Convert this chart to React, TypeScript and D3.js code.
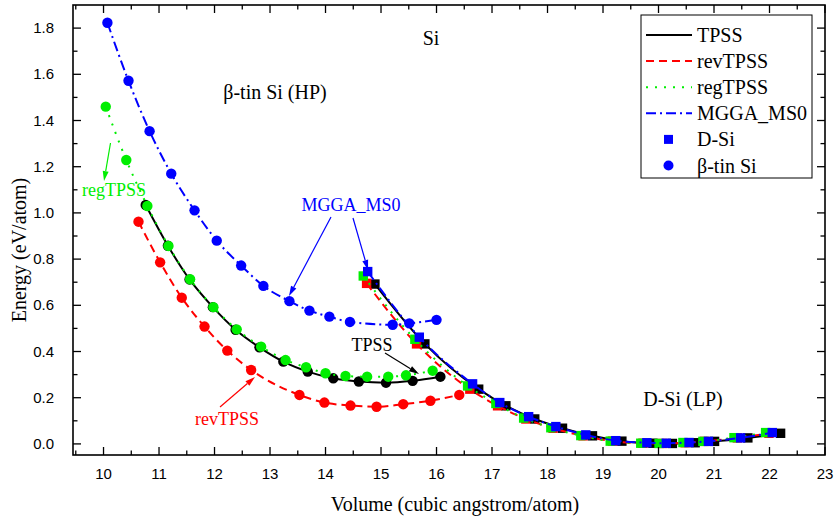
import React from "react";
import * as d3 from "d3";

// Energy–volume curves for silicon, [volume (Å^3/atom), energy (eV/atom)]
// β-tin (high-pressure) phase
const tpssBeta: [number, number][] = [
  [10.76, 1.034], [11.16, 0.858], [11.55, 0.712], [11.97, 0.592], [12.38, 0.494],
  [12.81, 0.418], [13.24, 0.356], [13.68, 0.313], [14.14, 0.284], [14.6, 0.27],
  [15.09, 0.265], [15.57, 0.273], [16.07, 0.291],
];
const revBeta: [number, number][] = [
  [10.63, 0.962], [11.02, 0.786], [11.41, 0.633], [11.82, 0.508], [12.23, 0.404],
  [12.66, 0.32], [13.53, 0.212], [13.98, 0.179], [14.45, 0.166], [14.92, 0.161],
  [15.4, 0.172], [15.89, 0.187], [16.41, 0.212],
];
const regBeta: [number, number][] = [
  [10.04, 1.46], [10.41, 1.229], [10.79, 1.03], [11.17, 0.857], [11.56, 0.713],
  [11.98, 0.592], [12.4, 0.496], [12.84, 0.421], [13.28, 0.363], [13.65, 0.332],
  [14.0, 0.306], [14.36, 0.294], [14.75, 0.291], [15.13, 0.291], [15.45, 0.297],
  [15.93, 0.317],
];
const ms0Beta: [number, number][] = [
  [10.07, 1.823], [10.45, 1.572], [10.83, 1.354], [11.22, 1.17], [11.64, 1.011],
  [12.04, 0.88], [12.48, 0.772], [12.88, 0.684], [13.35, 0.618], [13.71, 0.577],
  [14.07, 0.551], [14.44, 0.528], [15.21, 0.516], [15.51, 0.522], [16.0, 0.537],
];
// diamond (low-pressure) phase
const tpssD: [number, number][] = [
  [14.89, 0.692], [15.79, 0.433], [16.76, 0.237], [17.25, 0.165], [17.77, 0.108],
  [18.27, 0.068], [18.81, 0.035], [19.34, 0.012], [19.9, 0.003], [20.25, 0.002],
  [20.66, 0.005], [21.01, 0.011], [21.61, 0.026], [22.2, 0.046],
];
const revD: [number, number][] = [
  [14.74, 0.695], [15.64, 0.433], [16.6, 0.237], [17.1, 0.165], [17.61, 0.108],
  [18.1, 0.068], [18.64, 0.035], [19.17, 0.012], [19.72, 0.003], [20.07, 0.002],
  [20.48, 0.005], [20.83, 0.011], [21.42, 0.026], [21.99, 0.046],
];
const regD: [number, number][] = [
  [14.68, 0.727], [15.61, 0.453], [16.56, 0.251], [17.07, 0.175], [17.57, 0.112],
  [18.06, 0.07], [18.6, 0.036], [19.13, 0.012], [19.68, 0.003], [20.01, 0.002],
  [20.44, 0.006], [20.8, 0.011], [21.36, 0.027], [21.93, 0.049],
];
const ms0D: [number, number][] = [
  [14.76, 0.746], [15.69, 0.462], [16.65, 0.26], [17.14, 0.179], [17.66, 0.118],
  [18.15, 0.075], [18.69, 0.039], [19.23, 0.014], [19.79, 0.005], [20.14, 0.003],
  [20.55, 0.006], [20.9, 0.011], [21.48, 0.026], [22.05, 0.049],
];

const xTicks = d3.range(10, 23.01, 1);
const xMinor = d3.range(9.5, 23, 1);
const yTicks = d3.range(0, 1.81, 0.2);
const yMinor = d3.range(0.1, 1.85, 0.2);

const series = [
  { name: "TPSS", color: "#000000", dash: "none", beta: tpssBeta, dsi: tpssD },
  { name: "revTPSS", color: "#ff0000", dash: "8,5", beta: revBeta, dsi: revD },
  { name: "regTPSS", color: "#00ee00", dash: "2,7", beta: regBeta, dsi: regD },
  { name: "MGGA_MS0", color: "#0000ff", dash: "10,4,2,4", beta: ms0Beta, dsi: ms0D },
];

const W = 838;
const H = 521;
const left = 73, right = 825, top = 5, bottom = 455;

const x = d3.scaleLinear().domain([9.45, 23]).range([left, right]);
const y = d3.scaleLinear().domain([-0.048, 1.9]).range([bottom, top]);

const line = d3
  .line<[number, number]>()
  .x((d) => x(d[0]))
  .y((d) => y(d[1]))
  .curve(d3.curveMonotoneX);

const serif = "'Liberation Serif', 'Times New Roman', serif";
const sans = "'Liberation Sans', Arial, sans-serif";

function Arrow({ x1, y1, x2, y2, color }: { x1: number; y1: number; x2: number; y2: number; color: string }) {
  const a = Math.atan2(y2 - y1, x2 - x1);
  const len = 10, half = 3;
  const bx = x2 - len * Math.cos(a), by = y2 - len * Math.sin(a);
  const px = -Math.sin(a) * half, py = Math.cos(a) * half;
  return (
    <g>
      <line x1={x1} y1={y1} x2={bx} y2={by} stroke={color} strokeWidth={1.2} />
      <polygon points={`${x2},${y2} ${bx + px},${by + py} ${bx - px},${by - py}`} fill={color} />
    </g>
  );
}

export default function App() {
  const legendRows = [
    ...series.map((s) => ({ kind: "line", ...s })),
    { kind: "square", name: "D-Si", color: "#0000ff", dash: "none" },
    { kind: "circle", name: "β-tin Si", color: "#0000ff", dash: "none" },
  ];
  return (
    <svg width={W} height={H} style={{ display: "block", position: "absolute", left: 0, top: 0, background: "#fff" }}>
      <rect width={W} height={H} fill="#fff" />
      {/* series */}
      {series.map((s) => (
        <g key={s.name}>
          <path d={line(s.beta) || ""} fill="none" stroke={s.color} strokeWidth={2} strokeDasharray={s.dash} />
          <path d={line(s.dsi) || ""} fill="none" stroke={s.color} strokeWidth={2} strokeDasharray={s.dash} />
          {s.beta.map((d, i) => (
            <circle key={"b" + i} cx={x(d[0])} cy={y(d[1])} r={5.2} fill={s.color} />
          ))}
          {s.dsi.map((d, i) => (
            <rect key={"d" + i} x={x(d[0]) - 4.7} y={y(d[1]) - 4.7} width={9.4} height={9.4} fill={s.color} />
          ))}
        </g>
      ))}

      {/* frame */}
      <rect x={left} y={top} width={right - left} height={bottom - top} fill="none" stroke="#000" strokeWidth={1.6} />
      {/* x ticks (inward, bottom and top) */}
      {xTicks.map((t) => (
        <g key={"xt" + t}>
          <line x1={x(t)} x2={x(t)} y1={bottom} y2={bottom - 8} stroke="#000" strokeWidth={1.3} />
          <line x1={x(t)} x2={x(t)} y1={top} y2={top + 8} stroke="#000" strokeWidth={1.3} />
          <text x={x(t)} y={479} textAnchor="middle" fontFamily={sans} fontSize={15}>
            {t}
          </text>
        </g>
      ))}
      {xMinor.map((t) => (
        <g key={"xm" + t}>
          <line x1={x(t)} x2={x(t)} y1={bottom} y2={bottom - 4.5} stroke="#000" strokeWidth={1.3} />
          <line x1={x(t)} x2={x(t)} y1={top} y2={top + 4.5} stroke="#000" strokeWidth={1.3} />
        </g>
      ))}
      {/* y ticks (inward, left and right) */}
      {yTicks.map((t) => (
        <g key={"yt" + t}>
          <line x1={left} x2={left + 8} y1={y(t)} y2={y(t)} stroke="#000" strokeWidth={1.3} />
          <line x1={right} x2={right - 8} y1={y(t)} y2={y(t)} stroke="#000" strokeWidth={1.3} />
          <text x={54} y={y(t) + 5} textAnchor="end" fontFamily={sans} fontSize={15}>
            {t.toFixed(1)}
          </text>
        </g>
      ))}
      {yMinor.map((t) => (
        <g key={"ym" + t}>
          <line x1={left} x2={left + 4.5} y1={y(t)} y2={y(t)} stroke="#000" strokeWidth={1.3} />
          <line x1={right} x2={right - 4.5} y1={y(t)} y2={y(t)} stroke="#000" strokeWidth={1.3} />
        </g>
      ))}

      {/* axis titles */}
      <text x={(left + right) / 2 + 6} y={511} textAnchor="middle" fontFamily={serif} fontSize={20}>
        Volume (cubic angstrom/atom)
      </text>
      <text transform="translate(26,250) rotate(-90)" textAnchor="middle" fontFamily={serif} fontSize={20}>
        Energy (eV/atom)
      </text>

      {/* annotations */}
      <text x={431} y={45} textAnchor="middle" fontFamily={serif} fontSize={20}>Si</text>
      <text x={275} y={99} textAnchor="middle" fontFamily={serif} fontSize={20}>β-tin Si (HP)</text>
      <text x={683} y={406} textAnchor="middle" fontFamily={serif} fontSize={20}>D-Si (LP)</text>
      <text x={114} y={196} textAnchor="middle" fontFamily={serif} fontSize={18} fill="#00ee00">regTPSS</text>
      <Arrow x1={110.5} y1={143} x2={104} y2={181} color="#00ee00" />
      <text x={351} y={211} textAnchor="middle" fontFamily={serif} fontSize={18} fill="#0000ff">MGGA_MS0</text>
      <Arrow x1={331} y1={217} x2={289} y2={296} color="#0000ff" />
      <Arrow x1={353} y1={218} x2={368} y2={270} color="#0000ff" />
      <text x={372} y={351} textAnchor="middle" fontFamily={serif} fontSize={18} fill="#000">TPSS</text>
      <Arrow x1={385} y1={353} x2={419} y2={374} color="#000" />
      <text x={227} y={425} textAnchor="middle" fontFamily={serif} fontSize={18} fill="#ff0000">revTPSS</text>
      <Arrow x1={220} y1={407} x2={255} y2={377} color="#ff0000" />

      {/* legend */}
      <rect x={641} y={15} width={171} height={163} fill="#fff" stroke="#000" strokeWidth={1} />
      {legendRows.map((r, i) => {
        const cy = 35 + i * 26.1;
        return (
          <g key={"lg" + i}>
            {r.kind === "line" && (
              <line x1={646} x2={692} y1={cy} y2={cy} stroke={r.color} strokeWidth={2} strokeDasharray={r.dash} />
            )}
            {r.kind === "square" && <rect x={668.5 - 4.5} y={cy - 4.5} width={9} height={9} fill={r.color} />}
            {r.kind === "circle" && <circle cx={668.5} cy={cy} r={5} fill={r.color} />}
            <text x={697} y={cy + 7} fontFamily={serif} fontSize={20}>
              {r.name}
            </text>
          </g>
        );
      })}
    </svg>
  );
}
